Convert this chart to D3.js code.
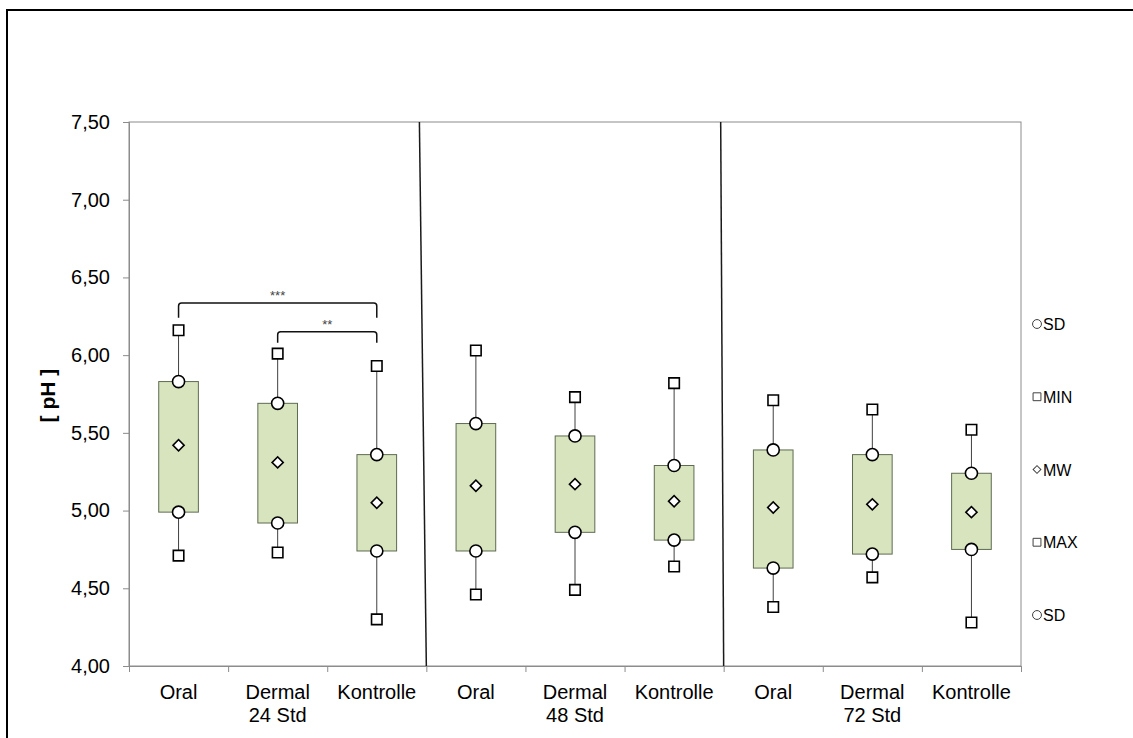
<!DOCTYPE html>
<html>
<head>
<meta charset="utf-8">
<script src="https://cdn.jsdelivr.net/npm/d3@7"></script>
<style>
	body { margin: 0; background: #fff; }
	svg { font-family: "Liberation Sans", Arial, sans-serif; }
</style>
</head>
<body>
<div id="chart"></div>
<script>
// Values
const categories = ["Oral", "Dermal", "Kontrolle", "Oral", "Dermal", "Kontrolle", "Oral", "Dermal", "Kontrolle"];
const timeLabels = ["", "24 Std", "", "", "48 Std", "", "", "72 Std", ""];
const maxVals = [6.16, 6.01, 5.93, 6.03, 5.73, 5.82, 5.71, 5.65, 5.52];
const sdUpper = [5.83, 5.69, 5.36, 5.56, 5.48, 5.29, 5.39, 5.36, 5.24];
const meanVals = [5.42, 5.31, 5.05, 5.16, 5.17, 5.06, 5.02, 5.04, 4.99];
const sdLower = [4.99, 4.92, 4.74, 4.74, 4.86, 4.81, 4.63, 4.72, 4.75];
const minVals = [4.71, 4.73, 4.30, 4.46, 4.49, 4.64, 4.38, 4.57, 4.28];
const yTicks = [4.0, 4.5, 5.0, 5.5, 6.0, 6.5, 7.0, 7.5];
const legendItems = [
	{ symbol: "circle", label: "SD" },
	{ symbol: "square", label: "MIN" },
	{ symbol: "diamond", label: "MW" },
	{ symbol: "square", label: "MAX" },
	{ symbol: "circle", label: "SD" },
];
// significance brackets: from / to category index, level, label
const brackets = [
	{ from: 0, to: 2, level: 6.335, drop: 6.24, label: "***" },
	{ from: 1, to: 2, level: 6.15, drop: 6.08, label: "**" },
];
// slanted group separators (boundary index at top / bottom)
const separators = [
	{ top: 2.93, bottom: 3.0 },
	{ top: 5.97, bottom: 6.0 },
];

const width = 1133;
const height = 738;
const margin = { top: 122, left: 129, right: 112, bottom: 72 };

const svg = d3
	.select("#chart")
	.append("svg")
	.attr("width", width)
	.attr("height", height);

// outer frame
svg.append("rect")
	.attr("x", 7)
	.attr("y", 10)
	.attr("width", width)
	.attr("height", height)
	.attr("fill", "none")
	.attr("stroke", "#000")
	.attr("stroke-width", 2);

const xPos = d3
	.scaleLinear()
	.domain([0, categories.length])
	.range([margin.left, width - margin.right]);
const xCenter = (i) => xPos(i + 0.5);
const boxW = (xPos(1) - xPos(0)) * 0.4;

const yScale = d3
	.scaleLinear()
	.domain([4, 7.5])
	.range([height - margin.bottom, margin.top]);

const fmt = (d) => d3.format(".2f")(d).replace(".", ",");

// plot area border
svg.append("rect")
	.attr("x", xPos(0))
	.attr("y", yScale(7.5))
	.attr("width", xPos(categories.length) - xPos(0))
	.attr("height", yScale(4) - yScale(7.5))
	.attr("fill", "none")
	.attr("stroke", "#8c8c8c")
	.attr("stroke-width", 1);

// Y axis
const yAxis = svg
	.append("g")
	.attr("transform", `translate(${xPos(0)},0)`)
	.call(d3.axisLeft(yScale).tickValues(yTicks).tickFormat(fmt).tickSize(6).tickPadding(13));
yAxis.select(".domain").attr("stroke", "#8c8c8c");
yAxis.selectAll(".tick line").attr("stroke", "#8c8c8c");
yAxis.selectAll(".tick text")
	.attr("font-size", 20)
	.attr("font-family", "Liberation Sans, Arial, sans-serif")
	.attr("fill", "#000");

svg.append("text")
	.text("[ pH ]")
	.attr("font-size", 21)
	.attr("font-weight", "bold")
	.attr("dominant-baseline", "central")
	.style("text-anchor", "middle")
	.attr("transform", `translate(47, ${yScale(5.74)}) rotate(-90)`);

// X axis ticks at category boundaries
const xAxis = svg
	.append("g")
	.attr("transform", `translate(0,${yScale(4)})`)
	.call(
		d3.axisBottom(xPos)
			.tickValues(d3.range(categories.length + 1))
			.tickFormat("")
			.tickSize(6)
	);
xAxis.select(".domain").attr("stroke", "#8c8c8c");
xAxis.selectAll(".tick line").attr("stroke", "#8c8c8c");

svg.append("g")
	.selectAll("text")
	.data(categories)
	.join("text")
	.attr("x", (d, i) => xCenter(i))
	.attr("y", yScale(4) + 33)
	.attr("font-size", 20)
	.style("text-anchor", "middle")
	.text((d) => d);

svg.append("g")
	.selectAll("text")
	.data(timeLabels)
	.join("text")
	.attr("x", (d, i) => xCenter(i))
	.attr("y", yScale(4) + 56)
	.attr("font-size", 20)
	.style("text-anchor", "middle")
	.text((d) => d);

// separators
svg.append("g")
	.selectAll("line")
	.data(separators)
	.join("line")
	.attr("x1", (d) => xPos(d.top))
	.attr("x2", (d) => xPos(d.bottom))
	.attr("y1", yScale(7.5))
	.attr("y2", yScale(4))
	.attr("stroke", "#1a1a1a")
	.attr("stroke-width", 1.5);

// whiskers
svg.append("g")
	.selectAll("line")
	.data(categories)
	.join("line")
	.attr("x1", (d, i) => xCenter(i))
	.attr("x2", (d, i) => xCenter(i))
	.attr("y1", (d, i) => yScale(maxVals[i]))
	.attr("y2", (d, i) => yScale(minVals[i]))
	.attr("stroke", "#404040")
	.attr("stroke-width", 1);

// boxes (SD range)
svg.append("g")
	.selectAll("rect")
	.data(categories)
	.join("rect")
	.attr("x", (d, i) => xCenter(i) - boxW / 2)
	.attr("y", (d, i) => yScale(sdUpper[i]))
	.attr("width", boxW)
	.attr("height", (d, i) => yScale(sdLower[i]) - yScale(sdUpper[i]))
	.attr("fill", "#d7e4bd")
	.attr("stroke", "#5e6b52")
	.attr("stroke-width", 1);

const squareSym = d3.symbol().type(d3.symbolSquare).size(110);
const circleSym = d3.symbol().type(d3.symbolCircle).size(115);
const diamondSym = d3.symbol().type(d3.symbolSquare).size(62);

function drawMarkers(values, sym, rotate) {
	svg.append("g")
		.selectAll("path")
		.data(values)
		.join("path")
		.attr("d", sym)
		.attr("transform", (d, i) => `translate(${xCenter(i)},${yScale(d)}) rotate(${rotate})`)
		.attr("fill", "#fff")
		.attr("stroke", "#000")
		.attr("stroke-width", 1.6);
}
drawMarkers(maxVals, squareSym, 0);
drawMarkers(minVals, squareSym, 0);
drawMarkers(sdUpper, circleSym, 0);
drawMarkers(sdLower, circleSym, 0);
drawMarkers(meanVals, diamondSym, 45);

// significance brackets
const br = svg.append("g");
br.selectAll("path")
	.data(brackets)
	.join("path")
	.attr("d", (d) => {
		const x1 = xCenter(d.from);
		const x2 = xCenter(d.to);
		const yl = yScale(d.level);
		const yd = yScale(d.drop);
		return `M${x1},${yd} L${x1},${yl + 3} Q${x1},${yl} ${x1 + 3},${yl} L${x2 - 3},${yl} Q${x2},${yl} ${x2},${yl + 3} L${x2},${yd}`;
	})
	.attr("fill", "none")
	.attr("stroke", "#111")
	.attr("stroke-width", 1.5);
br.selectAll("text")
	.data(brackets)
	.join("text")
	.attr("x", (d) => (xCenter(d.from) + xCenter(d.to)) / 2)
	.attr("y", (d) => yScale(d.level) - 3)
	.attr("font-size", 13)
	.attr("fill", "#444")
	.style("text-anchor", "middle")
	.text((d) => d.label);

// legend
const legendY = d3
	.scalePoint()
	.domain(d3.range(legendItems.length))
	.range([324, 615]);
const legend = svg
	.append("g")
	.selectAll("g")
	.data(legendItems)
	.join("g")
	.attr("transform", (d, i) => `translate(1037,${legendY(i)})`);
legend.append("path")
	.attr("d", (d) =>
		d3.symbol()
			.type(d.symbol === "circle" ? d3.symbolCircle : d3.symbolSquare)
			.size(d.symbol === "diamond" ? 30 : 62)()
	)
	.attr("transform", (d) => (d.symbol === "diamond" ? "rotate(45)" : null))
	.attr("fill", "#fff")
	.attr("stroke", "#404040")
	.attr("stroke-width", 1);
legend.append("text")
	.attr("x", 6)
	.attr("y", 6)
	.attr("font-size", 16)
	.text((d) => d.label);
</script>
</body>
</html>
